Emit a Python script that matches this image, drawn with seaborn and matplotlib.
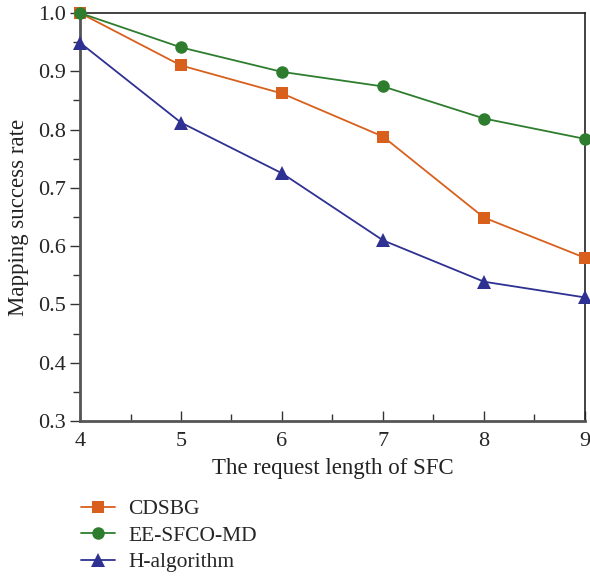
import matplotlib
matplotlib.use("Agg")
import matplotlib.pyplot as plt
import seaborn as sns
import pandas as pd
from matplotlib.ticker import MultipleLocator

# SFC request lengths and mapping success rates per algorithm
lengths = [4, 5, 6, 7, 8, 9]
cdsbg = [1.0, 0.91, 0.862, 0.788, 0.649, 0.580]
ee_sfco_md = [1.0, 0.941, 0.899, 0.874, 0.819, 0.784]
h_algorithm = [0.949, 0.812, 0.725, 0.610, 0.539, 0.512]
series_names = ["CDSBG", "EE-SFCO-MD", "H-algorithm"]

df = pd.DataFrame({
    "length": lengths * 3,
    "rate": cdsbg + ee_sfco_md + h_algorithm,
    "algorithm": [series_names[0]] * 6 + [series_names[1]] * 6 + [series_names[2]] * 6,
})

sns.set_theme(style="ticks")
plt.rcParams["font.family"] = ["Liberation Serif", "DejaVu Serif"]

fig = plt.figure(figsize=(5.9, 5.78), dpi=100)
ax = fig.add_axes([0.1356, 0.2716, 0.8559, 0.7059])

palette = {"CDSBG": "#D8601C", "EE-SFCO-MD": "#2E7D2E", "H-algorithm": "#2E3192"}
markers = {"CDSBG": "s", "EE-SFCO-MD": "o", "H-algorithm": "^"}
sizes = {"CDSBG": 8, "EE-SFCO-MD": 9, "H-algorithm": 10}

for name in series_names:
    sub = df[df["algorithm"] == name]
    sns.lineplot(data=sub, x="length", y="rate", ax=ax, color=palette[name],
                 marker=markers[name], markersize=sizes[name], markeredgewidth=0,
                 linewidth=1.3, label=name, clip_on=False, zorder=3)

ax.set_xlim(4, 9)
ax.set_ylim(0.3, 1.0)
ax.xaxis.set_major_locator(MultipleLocator(1))
ax.xaxis.set_minor_locator(MultipleLocator(0.5))
ax.yaxis.set_major_locator(MultipleLocator(0.1))
ax.yaxis.set_minor_locator(MultipleLocator(0.05))
ax.set_yticklabels([f"{v:.1f}" for v in ax.get_yticks()])

ax.tick_params(axis="x", which="both", direction="in", labelsize=16, pad=8, color="#333333")
ax.tick_params(axis="x", which="major", length=7, width=1)
ax.tick_params(axis="x", which="minor", length=5, width=1)
ax.tick_params(axis="y", which="both", direction="out", labelsize=16, pad=3, color="#333333")
ax.tick_params(axis="y", which="major", length=7, width=1)
ax.tick_params(axis="y", which="minor", length=5, width=1)

for side in ["left", "bottom"]:
    ax.spines[side].set_linewidth(2.0)
    ax.spines[side].set_color("#555555")
for side in ["top", "right"]:
    ax.spines[side].set_visible(True)
    ax.spines[side].set_linewidth(1.2)
    ax.spines[side].set_color("#222222")

ax.set_xlabel("The request length of SFC", fontsize=16.5, labelpad=5, color="#222222")
ax.set_ylabel("Mapping success rate", fontsize=16.5, labelpad=7, color="#222222")

ax.legend(loc="upper left", bbox_to_anchor=(-0.015, -0.17), frameon=False,
          fontsize=15.5, handlelength=1.6, labelspacing=0.3, handletextpad=0.6,
          borderaxespad=0)

fig.savefig("out.png", dpi=100)
